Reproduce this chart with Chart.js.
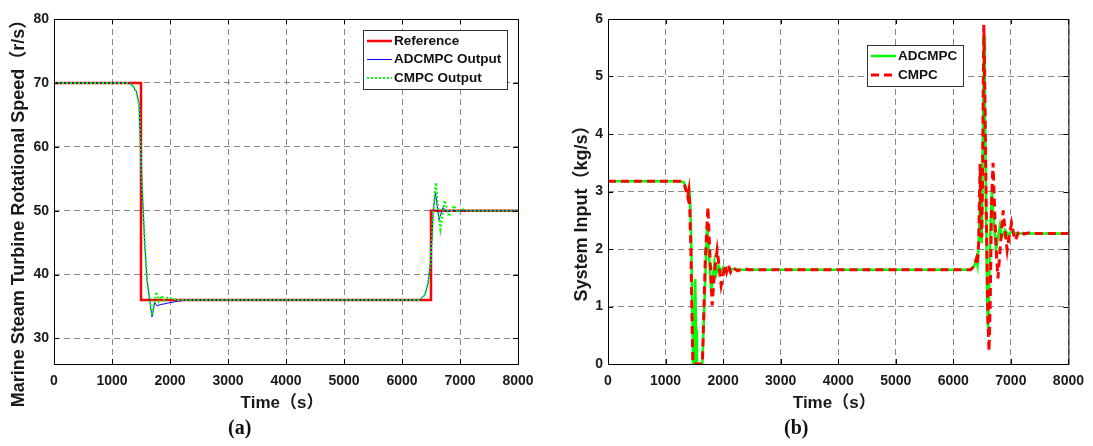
<!DOCTYPE html>
<html>
<head>
<meta charset="utf-8">
<script src="https://cdn.jsdelivr.net/npm/chart.js@4.4.1/dist/chart.umd.min.js"></script>
<style>
  body { margin: 0; background: #fff; width: 1093px; height: 446px; overflow: hidden; position: relative; }
  .panel { position: absolute; top: 0; }
  .tag { position: absolute; top: 416px; font: bold 20px "Liberation Serif", "DejaVu Serif", serif; color: #111; }
</style>
</head>
<body>
<div class="panel" style="left:0"><canvas id="chartA" width="546" height="446"></canvas></div>
<div class="panel" style="left:546px"><canvas id="chartB" width="547" height="446"></canvas></div>
<div class="tag" style="left:228px">(a)</div>
<div class="tag" style="left:784px">(b)</div>
<script>
// ---- data ----
const xTicks = [0, 1000, 2000, 3000, 4000, 5000, 6000, 7000, 8000];
const yTicksA = [30, 40, 50, 60, 70, 80];
const yTicksB = [0, 1, 2, 3, 4, 5, 6];

// (a) rotational speed
const refTime = [0, 1500, 1500, 6500, 6500, 8000];
const refSpeed = [70, 70, 36, 36, 50, 50];

const adcTime = [0, 1270, 1360, 1420, 1466, 1490, 1524, 1564, 1604, 1650, 1690, 1736, 1776, 1830, 1900, 1995, 2150, 2300,
  6300, 6391, 6449, 6490, 6518, 6535, 6576, 6638, 6707, 6770, 6850, 8000];
const adcSpeed = [70, 70, 69.6, 68.6, 66.8, 60.5, 52.7, 44.9, 39.1, 36, 33.4, 35.6, 35.1, 35.3, 35.4, 35.6, 35.85, 36,
  36, 36.8, 38.6, 41.7, 45.9, 49.5, 52.9, 48.6, 50.5, 49.8, 50, 50];

const cmpcTime = [0, 1270, 1360, 1420, 1466, 1490, 1524, 1564, 1604, 1650, 1695, 1730, 1765, 1805, 1860, 1905, 1955, 2050, 2150,
  6300, 6391, 6449, 6490, 6518, 6540, 6582, 6622, 6662, 6736, 6810, 6897, 6960, 7050, 7150, 8000];
const cmpcSpeed = [70, 70, 69.6, 68.5, 66.6, 60.5, 52.7, 44.9, 39.1, 36, 33.6, 35.8, 37.3, 35.8, 36.7, 35.9, 36.4, 36.2, 36,
  36, 36.8, 38.6, 41.7, 45.9, 50, 54.4, 50.5, 47.1, 51.6, 49.1, 50.8, 49.7, 50.2, 50, 50];

// (b) system input
const adcInTime = [0, 1250, 1320, 1360, 1385, 1410, 1425, 1445, 1465, 1480, 1505, 1515, 1530, 1545, 1640, 1680, 1722, 1760, 1793,
  1820, 1850, 1880, 1920, 1960, 2000, 2060, 2150, 2300, 6300, 6360, 6400, 6420, 6440, 6455, 6468, 6480, 6492, 6505, 6520,
  6535, 6550, 6570, 6590, 6605, 6620, 6645, 6672, 6700, 6741, 6775, 6810, 6840, 6870, 6900, 6950, 7000, 7100, 8000];
const adcInput = [3.18, 3.18, 3.16, 3.05, 2.98, 3.05, 2.9, 2.2, 1.0, 0, 0, 1.48, 0.6, 0, 0, 1.2, 2.42, 1.8, 1.26,
  1.5, 1.77, 1.56, 1.71, 1.6, 1.68, 1.62, 1.65, 1.64, 1.64, 1.7, 1.83, 1.72, 2.1, 2.5, 3.35, 2.3, 2.1, 3.0, 4.5,
  5.7, 4.5, 2.5, 1.0, 0.6, 1.2, 2.4, 3.02, 2.5, 1.98, 2.2, 2.41, 2.2, 2.25, 2.33, 2.25, 2.29, 2.27, 2.27];

const cmpcInTime = [0, 1250, 1320, 1360, 1385, 1405, 1420, 1440, 1460, 1475, 1640, 1690, 1736, 1770, 1810, 1850, 1897, 1930,
  1966, 2000, 2030, 2060, 2091, 2130, 2170, 2250, 2350, 2450, 6300, 6360, 6400, 6420, 6440, 6466, 6480, 6495, 6510, 6530,
  6550, 6575, 6600, 6620, 6640, 6665, 6690, 6720, 6750, 6776, 6820, 6867, 6900, 6936, 6975, 7012, 7050, 7081, 7125, 7167,
  7230, 7300, 7400, 8000];
const cmpcInput = [3.18, 3.18, 3.15, 3.0, 2.9, 3.02, 2.75, 2.0, 0.8, 0, 0, 1.8, 2.73, 1.9, 1.02, 1.6, 1.98, 1.7,
  1.37, 1.55, 1.72, 1.6, 1.72, 1.6, 1.68, 1.62, 1.66, 1.64, 1.64, 1.7, 1.83, 1.72, 2.1, 3.48, 2.5, 2.2, 3.5, 5.9,
  4.5, 2.5, 0.8, 0.22, 1.0, 2.8, 3.5, 2.6, 1.9, 1.49, 2.1, 2.67, 2.3, 1.98, 2.25, 2.45, 2.25, 2.15, 2.28, 2.32,
  2.26, 2.28, 2.27, 2.27];

const FONT = '"Liberation Sans", Arial, "Noto Sans CJK SC", sans-serif';
const pts = (ts, vs) => ts.map((t, i) => ({ x: t, y: vs[i] }));

// frame, inner ticks, axis titles and legend box (MATLAB look)
const matlabFrame = {
  id: 'matlabFrame',
  afterDraw(chart, args, opts) {
    const { ctx, chartArea: a, scales } = chart;
    ctx.save();
    ctx.strokeStyle = '#000';
    ctx.lineWidth = 1;
    ctx.setLineDash([]);
    ctx.strokeRect(a.left + 0.5, a.top + 0.5, a.right - a.left, a.bottom - a.top);
    ctx.beginPath();
    scales.x.ticks.forEach(t => {
      const px = Math.round(scales.x.getPixelForValue(t.value)) + 0.5;
      ctx.moveTo(px, a.bottom); ctx.lineTo(px, a.bottom - 5);
      ctx.moveTo(px, a.top); ctx.lineTo(px, a.top + 5);
    });
    scales.y.ticks.forEach(t => {
      const py = Math.round(scales.y.getPixelForValue(t.value)) + 0.5;
      ctx.moveTo(a.left, py); ctx.lineTo(a.left + 5, py);
      ctx.moveTo(a.right, py); ctx.lineTo(a.right - 5, py);
    });
    ctx.stroke();

    // axis titles
    ctx.fillStyle = '#1a1a1a';
    ctx.font = 'bold 17px ' + FONT;
    ctx.textAlign = 'center';
    ctx.textBaseline = 'middle';
    ctx.fillText(opts.xTitle, (a.left + a.right) / 2 - 4, 403);
    ctx.font = 'bold 18px ' + FONT;
    ctx.translate(opts.yTitleX, opts.yTitleY);
    ctx.rotate(-Math.PI / 2);
    ctx.fillText(opts.yTitle, 0, 0);
    ctx.restore();

    // legend
    const L = opts.legend;
    ctx.save();
    ctx.fillStyle = '#fff';
    ctx.fillRect(L.x, L.y, L.w, L.h);
    ctx.strokeStyle = '#333';
    ctx.lineWidth = 1;
    ctx.strokeRect(L.x + 0.5, L.y + 0.5, L.w, L.h);
    ctx.font = 'bold 13.5px ' + FONT;
    ctx.textAlign = 'left';
    ctx.textBaseline = 'middle';
    chart.data.datasets.forEach((ds, i) => {
      const yy = L.y + L.rowTop + i * L.rowGap;
      ctx.strokeStyle = ds.borderColor;
      ctx.lineWidth = ds.borderWidth;
      ctx.setLineDash(ds.borderDash || []);
      ctx.beginPath();
      ctx.moveTo(L.x + 4, yy); ctx.lineTo(L.x + 4 + L.sample, yy);
      ctx.stroke();
      ctx.fillStyle = '#111';
      ctx.fillText(ds.label, L.x + 6 + L.sample, yy);
    });
    ctx.restore();
  }
};

function baseOptions(yMin, yMax, yTicks, yWidth, rightPad, frameOpts) {
  const tickFont = { family: FONT, size: 14, weight: 'bold' };
  return {
    responsive: false,
    animation: false,
    layout: { padding: { top: 19, right: rightPad, bottom: 52, left: 0 } },
    plugins: { legend: { display: false }, tooltip: { enabled: false }, matlabFrame: frameOpts },
    elements: { point: { radius: 0 }, line: { tension: 0 } },
    scales: {
      x: {
        type: 'linear', min: 0, max: 8000,
        afterBuildTicks: s => { s.ticks = xTicks.map(v => ({ value: v })); },
        afterFit: s => { s.height = 30; },
        grid: { color: '#888', lineWidth: 1, drawTicks: false },
        border: { display: false, dash: [6, 4] },
        ticks: { padding: 9, color: '#1a1a1a', font: tickFont, maxRotation: 0, callback: v => String(v) }
      },
      y: {
        type: 'linear', min: yMin, max: yMax,
        afterBuildTicks: s => { s.ticks = yTicks.map(v => ({ value: v })); },
        afterFit: s => { s.width = yWidth; },
        grid: { color: '#888', lineWidth: 1, drawTicks: false },
        border: { display: false, dash: [6, 4] },
        ticks: { padding: 5, color: '#1a1a1a', font: tickFont, callback: v => String(v) }
      }
    }
  };
}

const optsA = baseOptions(26, 80, yTicksA, 54, 28, {
  xTitle: 'Time（s）',
  yTitle: 'Marine Steam Turbine Rotational Speed（r/s）',
  yTitleX: 19, yTitleY: 209,
  legend: { x: 363, y: 30, w: 144, h: 59, rowTop: 11, rowGap: 18.5, sample: 25 }
});

// lower "order" is drawn on top
new Chart(document.getElementById('chartA'), {
  type: 'line',
  data: {
    datasets: [
      { label: 'Reference', data: pts(refTime, refSpeed), borderColor: '#ff0000', borderWidth: 2.5, order: 3 },
      { label: 'ADCMPC Output', data: pts(adcTime, adcSpeed), borderColor: '#0000ff', borderWidth: 1, order: 2 },
      { label: 'CMPC Output', data: pts(cmpcTime, cmpcSpeed), borderColor: '#00ff00', borderWidth: 2, borderDash: [2, 2], order: 1 }
    ]
  },
  options: optsA,
  plugins: [matlabFrame]
});

const optsB = baseOptions(0, 6, yTicksB, 62, 23, {
  xTitle: 'Time（s）',
  yTitle: 'System Input（kg/s）',
  yTitleX: 36, yTitleY: 209,
  legend: { x: 321, y: 45, w: 96, h: 41, rowTop: 11, rowGap: 19, sample: 25 }
});

new Chart(document.getElementById('chartB'), {
  type: 'line',
  data: {
    datasets: [
      { label: 'ADCMPC', data: pts(adcInTime, adcInput), borderColor: '#00ff00', borderWidth: 2.5, order: 2 },
      { label: 'CMPC', data: pts(cmpcInTime, cmpcInput), borderColor: '#ff0000', borderWidth: 3, borderDash: [8, 5], order: 1 }
    ]
  },
  options: optsB,
  plugins: [matlabFrame]
});
</script>
</body>
</html>
